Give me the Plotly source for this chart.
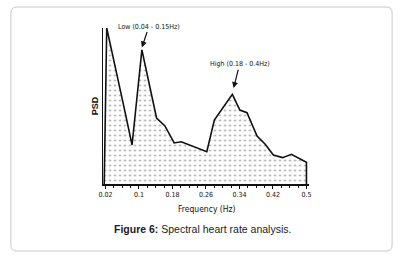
import plotly.graph_objects as go

# Data (PSD in arbitrary units, peak = 100)
freq = [0.017, 0.023, 0.064, 0.0835, 0.107, 0.142, 0.162, 0.184, 0.201, 0.262,
        0.280, 0.323, 0.341, 0.358, 0.382, 0.401, 0.421, 0.443, 0.464, 0.500, 0.500]
psd = [0, 100, 49.6, 25, 86, 42.3, 37.2, 26.3, 27.1, 20.7,
       41, 57.5, 47.4, 45.7, 30.8, 25.6, 18.6, 16.9, 19, 13.9, 0]
tick_vals = [0.02, 0.1, 0.18, 0.26, 0.34, 0.42, 0.5]
tick_text = ["0.02", "0.1", "0.18", "0.26", "0.34", "0.42", "0.5"]

W, H = 403, 259
def px(x):
    return x / W
def py(y):
    return 1 - y / H

NARROW = "DejaVu Sans Condensed, Liberation Sans Narrow, sans-serif"

fig = go.Figure()
fig.add_trace(go.Scatter(
    x=freq, y=psd, mode="lines",
    line=dict(color="#111111", width=1.6),
    fill="tozeroy", fillcolor="rgba(0,0,0,0)",
    fillpattern=dict(shape=".", fgcolor="#444444", bgcolor="white", size=5, solidity=0.14),
    hoverinfo="skip", showlegend=False,
))

# rounded border box
l, r, t, b, rad = 7, 394, 7, 251, 6
path = (f"M {px(l+rad)} {py(t)} L {px(r-rad)} {py(t)} Q {px(r)} {py(t)} {px(r)} {py(t+rad)} "
        f"L {px(r)} {py(b-rad)} Q {px(r)} {py(b)} {px(r-rad)} {py(b)} "
        f"L {px(l+rad)} {py(b)} Q {px(l)} {py(b)} {px(l)} {py(b-rad)} "
        f"L {px(l)} {py(t+rad)} Q {px(l)} {py(t)} {px(l+rad)} {py(t)} Z")
fig.add_shape(type="path", path=path, xref="paper", yref="paper",
              line=dict(color="#c8c8c8", width=1), layer="below")

annos = [
    dict(x=0.107, y=87.5, xref="x", yref="y", text="Low (0.04 - 0.15Hz)",
         showarrow=True, ax=7, ay=-21, arrowhead=2, arrowsize=1, arrowwidth=1.2,
         arrowcolor="#111", font=dict(family=NARROW, size=7, color="#111")),
    dict(x=0.326, y=61.5, xref="x", yref="y", text="High (0.18 - 0.4Hz)",
         showarrow=True, ax=6, ay=-24, arrowhead=2, arrowsize=1, arrowwidth=1.2,
         arrowcolor="#111", font=dict(family=NARROW, size=7, color="#111")),
    dict(x=px(85.5), y=py(106), xref="paper", yref="paper", text="<b>PSD</b>",
         textangle=-90, showarrow=False, font=dict(family="Liberation Sans, Arial, sans-serif", size=9, color="#111")),
    dict(x=px(206), y=py(216), xref="paper", yref="paper", text="Frequency (Hz)",
         showarrow=False, font=dict(family=NARROW, size=8.5, color="#111")),
    dict(x=px(201), y=py(237), xref="paper", yref="paper",
         text="<b>Figure 6:</b> Spectral heart rate analysis.",
         showarrow=False, font=dict(family="Liberation Sans, Arial, sans-serif", size=10.5, color="#1a1a2a")),
]

fig.update_layout(
    width=W, height=H, autosize=False,
    margin=dict(l=0, r=0, t=0, b=0),
    paper_bgcolor="white", plot_bgcolor="white",
    annotations=annos,
    xaxis=dict(domain=[px(100), px(310)], range=[0.01294, 0.507],
               showline=True, linecolor="#111", linewidth=1.5, showgrid=False, zeroline=False,
               tickmode="array", tickvals=tick_vals, ticktext=tick_text,
               ticks="outside", ticklen=3, tickcolor="#111",
               minor=dict(dtick=0.02, tick0=0.02, ticks="outside", ticklen=2, tickcolor="#111"),
               tickfont=dict(family=NARROW, size=7, color="#111")),
    yaxis=dict(domain=[py(184), py(28)], range=[0, 100],
               showline=True, linecolor="#111", linewidth=1.2, showgrid=False, zeroline=False,
               showticklabels=False, ticks=""),
)

fig.write_html("out.html", config={"displayModeBar": False},
               post_script="document.body.style.margin='0';document.body.style.padding='0';")
